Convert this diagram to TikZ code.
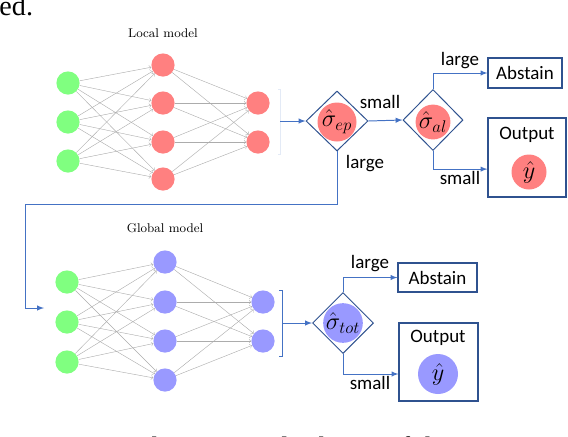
\documentclass[tikz,border=0pt]{standalone}
\usepackage{amsmath}
\usepackage{amssymb}
\usepackage{fontspec}
\usepackage{tikz}
\usetikzlibrary{arrows}
\usetikzlibrary{shapes.geometric}
\newfontfamily\calfont{Carlito}
\newfontfamily\capfont{Liberation Serif}
\definecolor{inGreen}{RGB}{128,255,128}
\definecolor{locRed}{RGB}{255,128,128}
\definecolor{globBlue}{RGB}{153,153,255}
\definecolor{linkBlue}{RGB}{68,114,196}
\definecolor{boxBlue}{RGB}{47,82,143}
\tikzset{neuron/.style = {circle, inner sep = 0, minimum size = 0.58cm}}
\tikzset{edge/.style = {gray!65, line width = 0.3pt, ->}}
\tikzset{conn/.style = {linkBlue, line width = 0.7pt, -latex}}
\tikzset{box/.style = {draw = boxBlue, line width = 0.8pt, inner sep = 0, font = \calfont\fontsize{13.5}{16}\selectfont}}
\tikzset{decide/.style = {draw = boxBlue, diamond, line width = 0.7pt, inner sep = 0}}
\tikzset{lab/.style = {font = \calfont\fontsize{13.5}{16}\selectfont}}
\tikzset{body/.style = {anchor = base west, inner sep = 0, font = \capfont\fontsize{20}{24}\selectfont}}

\begin{document}
\begin{tikzpicture}
    \useasboundingbox (0, 0) rectangle (14.2, -10.9);

    % text of the page around the figure
    \node [body] (t0) at (-0.02, -0.39) {ed.};
    \node [body] (t1) at (0.45, -11.42) {Figure 1:\ \ The proposed scheme of the};

    % local model
    \node [font = \small] (lt) at (4.075, -0.825) {Local model};
    \node [neuron, fill = inGreen] (l0) at (1.7, -2.075) {};
    \node [neuron, fill = inGreen] (l1) at (1.7, -3.05) {};
    \node [neuron, fill = inGreen] (l2) at (1.7, -4.025) {};
    \node [neuron, fill = locRed] (l3) at (4.075, -1.625) {};
    \node [neuron, fill = locRed] (l4) at (4.075, -2.575) {};
    \node [neuron, fill = locRed] (l5) at (4.075, -3.55) {};
    \node [neuron, fill = locRed] (l6) at (4.075, -4.475) {};
    \node [neuron, fill = locRed] (l7) at (6.45, -2.575) {};
    \node [neuron, fill = locRed] (l8) at (6.45, -3.55) {};

    \draw [edge] (l0) -- (l3);
    \draw [edge] (l0) -- (l4);
    \draw [edge] (l0) -- (l5);
    \draw [edge] (l0) -- (l6);
    \draw [edge] (l1) -- (l3);
    \draw [edge] (l1) -- (l4);
    \draw [edge] (l1) -- (l5);
    \draw [edge] (l1) -- (l6);
    \draw [edge] (l2) -- (l3);
    \draw [edge] (l2) -- (l4);
    \draw [edge] (l2) -- (l5);
    \draw [edge] (l2) -- (l6);
    \draw [edge] (l3) -- (l7);
    \draw [edge] (l3) -- (l8);
    \draw [edge] (l4) -- (l7);
    \draw [edge] (l4) -- (l8);
    \draw [edge] (l5) -- (l7);
    \draw [edge] (l5) -- (l8);
    \draw [edge] (l6) -- (l7);
    \draw [edge] (l6) -- (l8);

    % global model
    \node [font = \small] (gt) at (4.125, -5.7) {Global model};
    \node [neuron, fill = inGreen] (g0) at (1.675, -7.05) {};
    \node [neuron, fill = inGreen] (g1) at (1.675, -8.05) {};
    \node [neuron, fill = inGreen] (g2) at (1.675, -9.05) {};
    \node [neuron, fill = globBlue] (g3) at (4.125, -6.55) {};
    \node [neuron, fill = globBlue] (g4) at (4.125, -7.55) {};
    \node [neuron, fill = globBlue] (g5) at (4.125, -8.525) {};
    \node [neuron, fill = globBlue] (g6) at (4.125, -9.5) {};
    \node [neuron, fill = globBlue] (g7) at (6.575, -7.55) {};
    \node [neuron, fill = globBlue] (g8) at (6.575, -8.525) {};

    \draw [edge] (g0) -- (g3);
    \draw [edge] (g0) -- (g4);
    \draw [edge] (g0) -- (g5);
    \draw [edge] (g0) -- (g6);
    \draw [edge] (g1) -- (g3);
    \draw [edge] (g1) -- (g4);
    \draw [edge] (g1) -- (g5);
    \draw [edge] (g1) -- (g6);
    \draw [edge] (g2) -- (g3);
    \draw [edge] (g2) -- (g4);
    \draw [edge] (g2) -- (g5);
    \draw [edge] (g2) -- (g6);
    \draw [edge] (g3) -- (g7);
    \draw [edge] (g3) -- (g8);
    \draw [edge] (g4) -- (g7);
    \draw [edge] (g4) -- (g8);
    \draw [edge] (g5) -- (g7);
    \draw [edge] (g5) -- (g8);
    \draw [edge] (g6) -- (g7);
    \draw [edge] (g6) -- (g8);

    % brackets
    \draw [linkBlue!15, line width = 0.7pt] (6.95, -2.225) -- (7.0, -2.225) -- (7.0, -3.85) -- (6.95, -3.85);
    \draw [linkBlue, line width = 0.7pt] (6.975, -7.25) -- (7.05, -7.25) -- (7.05, -8.9) -- (6.975, -8.9);
    \coordinate (lb) at (7.0, -3.025);
    \coordinate (gb) at (7.05, -8.075);
    \coordinate (gin) at (1.1, -7.7);

    % decisions, local
    \node [decide, minimum width = 1.55cm, minimum height = 1.5cm] (ep) at (8.425, -3.025) {};
    \node [neuron, fill = locRed, minimum size = 0.975cm] (epc) at (8.425, -3.05) {\LARGE $\hat{\sigma}_{ep}$};
    \node [decide, minimum width = 1.5cm, minimum height = 1.525cm] (al) at (10.825, -3.0) {};
    \node [neuron, fill = locRed, minimum size = 0.85cm] (alc) at (10.825, -3.05) {\LARGE $\hat{\sigma}_{al}$};
    \node [box, minimum width = 1.85cm, minimum height = 0.75cm] (abs1) at (13.125, -1.825) {Abstain};
    \node [box, minimum width = 1.95cm, minimum height = 1.975cm] (out1) at (13.175, -3.9375) {};
    \node [lab] (ot1) at (13.175, -3.375) {Output};
    \node [neuron, fill = locRed, minimum size = 0.875cm] (y1) at (13.225, -4.3) {\LARGE $\hat{y}$};

    \draw [conn] (lb) -- (ep.west);
    \draw [conn] (ep.east) -- (al.west);
    \draw [conn] (al.north) |- (abs1.west);
    \draw [conn] (al.south) |- ([yshift = -0.29cm] out1.west);
    \draw [conn] (ep.south) |- (0.625, -5.1) |- (gin);
    \node [lab] (s1) at (9.5, -2.55) {small};
    \node [lab] (r1) at (11.5, -1.525) {large};
    \node [lab] (s2) at (11.5, -4.45) {small};
    \node [lab] (r2) at (9.125, -4.1) {large};

    % decisions, global
    \node [decide, minimum width = 1.525cm, minimum height = 1.525cm] (tot) at (8.575, -8.075) {};
    \node [neuron, fill = globBlue, minimum size = 0.9cm] (totc) at (8.575, -8.075) {\LARGE $\hat{\sigma}_{tot}$};
    \node [box, minimum width = 1.975cm, minimum height = 0.725cm] (abs2) at (10.9375, -6.9375) {Abstain};
    \node [box, minimum width = 1.975cm, minimum height = 1.95cm] (out2) at (10.9625, -9.05) {};
    \node [lab] (ot2) at (10.95, -8.45) {Output};
    \node [neuron, fill = globBlue, minimum size = 1.0cm] (y2) at (10.95, -9.35) {\LARGE $\hat{y}$};

    \draw [conn] (gb) -- (tot.west);
    \draw [conn] (tot.north) |- (abs2.west);
    \draw [conn] (tot.south) |- ([yshift = -0.3cm] out2.west);
    \node [lab] (r3) at (9.25, -6.6) {large};
    \node [lab] (s3) at (9.25, -9.575) {small};
  \end{tikzpicture}
\end{document}
